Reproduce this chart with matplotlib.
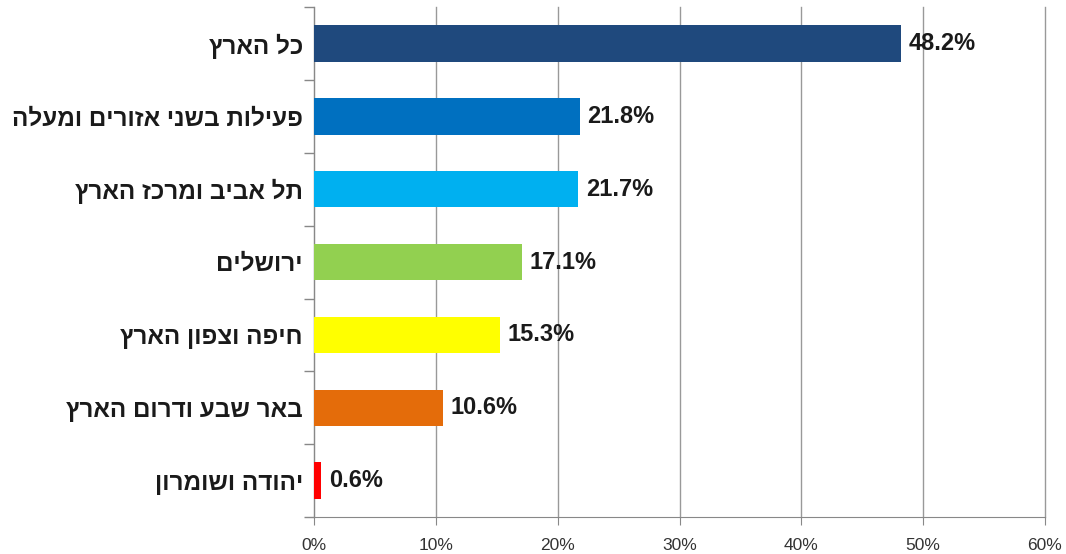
import numpy as np
import matplotlib.pyplot as plt
from matplotlib.ticker import FixedLocator, PercentFormatter

# region labels (logical Hebrew order) and shares in %
regions = ['כל הארץ', 'פעילות בשני אזורים ומעלה', 'תל אביב ומרכז הארץ',
           'ירושלים', 'חיפה וצפון הארץ', 'באר שבע ודרום הארץ', 'יהודה ושומרון']
shares = [48.2, 21.8, 21.7, 17.1, 15.3, 10.6, 0.6]
colors = ['#1F497D', '#0070C0', '#00B0F0', '#92D050', '#FFFF00', '#E46C0A', '#FF0000']
xticks = [0, 10, 20, 30, 40, 50, 60]

fam = ['Liberation Sans', 'DejaVu Sans']
plt.rcParams['font.family'] = fam

fig = plt.figure(figsize=(10.66, 5.54), dpi=100)
ax = fig.add_axes([0.2946, 0.0668, 0.6857, 0.9202])

y = np.arange(len(regions))
ax.barh(y, shares, height=0.5, color=colors, zorder=3)
ax.set_ylim(len(regions) - 0.5, -0.5)
ax.set_xlim(0, 60)

for yi, v in zip(y, shares):
    ax.text(v + 0.6, yi, f'{v:.1f}%', va='center', ha='left',
            fontsize=17, fontweight='bold', color='#1a1a1a', zorder=4)

# matplotlib has no bidi support: reverse Hebrew for visual order
ax.set_yticks(y)
ax.set_yticklabels([s[::-1] for s in regions], fontsize=17.5, fontweight='bold',
                   color='#1a1a1a')
ax.tick_params(axis='y', which='major', length=0, pad=8)
ax.yaxis.set_minor_locator(FixedLocator(np.arange(-0.5, len(regions), 1.0)))
ax.tick_params(axis='y', which='minor', length=7, color='#888888', width=1)

ax.set_xticks(xticks)
ax.xaxis.set_major_formatter(PercentFormatter(decimals=0))
ax.tick_params(axis='x', length=6, color='#888888', labelsize=12.5,
               labelcolor='#333333', pad=9)
ax.grid(axis='x', color='#999999', linewidth=1, zorder=0)
for gl in ax.get_xgridlines():
    gl.set_clip_on(False)

for side in ['top', 'right']:
    ax.spines[side].set_visible(False)
ax.spines['left'].set_color('#888888')
ax.spines['bottom'].set_color('#888888')

fig.savefig('out.png', dpi=100)
